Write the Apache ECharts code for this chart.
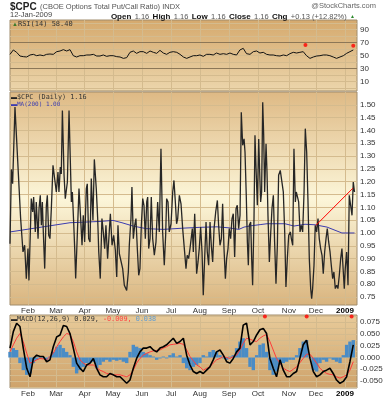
<!DOCTYPE html>
<html><head><meta charset="utf-8">
<script src="https://cdn.jsdelivr.net/npm/echarts@6/dist/echarts.min.js"></script>
<style>html,body{margin:0;padding:0;background:#fff}#c{width:388px;height:400px}</style>
</head><body><div id="c"></div>
<script>
// ---- x-axis: trading-day index (0 = 14-Jan-2008) ----
const monthDays = [13.0, 33.3, 54.0, 74.5, 95.5, 116.5, 137.4, 158.4, 179.4, 201.8, 221.3, 242.3];
const monthLabels = ['Feb','Mar','Apr','May','Jun','Jul','Aug','Sep','Oct','Nov','Dec','2009'];

// ---- y tick labels ----
const rsiTicks = [10, 30, 50, 70, 90];
const rsiGrid = [0, 10, 20, 30, 40, 50, 60, 70, 80, 90, 100];
const cpcTicks = [0.75, 0.80, 0.85, 0.90, 0.95, 1.00, 1.05, 1.10, 1.15, 1.20, 1.25, 1.30, 1.35, 1.40, 1.45, 1.50];
const macdTicks = [-0.050, -0.025, 0.000, 0.025, 0.050, 0.075];
const macdGrid = [-0.0625, -0.05, -0.0375, -0.025, -0.0125, 0, 0.0125, 0.025, 0.0375, 0.05, 0.0625, 0.075, 0.0875];

// ---- $CPC daily [day, value] ----
const cpc = [[0,0.958],[1.0,1.248],[1.9,1.192],[3.6,1.491],[7.7,1.056],[9.4,0.926],[10.6,0.952],[11.8,0.822],[13.0,0.939],[13.7,0.815],[15.4,1.134],[16.4,1.082],[17.1,1.140],[18.3,1.004],[19.0,1.121],[20.3,0.978],[21.0,1.095],[21.9,1.147],[22.7,1.030],[23.4,1.121],[24.1,1.004],[25.1,0.861],[26.3,1.108],[27.0,1.147],[28.0,0.991],[28.9,0.978],[29.9,1.095],[31.1,1.264],[32.3,1.270],[33.5,1.160],[34.7,1.238],[35.4,1.160],[36.4,1.257],[37.1,1.230],[37.9,1.478],[39.1,1.225],[40.0,1.134],[41.5,1.199],[42.7,1.478],[43.6,1.290],[44.4,1.121],[45.1,1.160],[46.1,1.036],[46.8,0.939],[47.5,0.822],[48.5,0.965],[49.9,1.173],[51.1,1.056],[52.1,0.952],[53.0,1.069],[54.0,0.965],[55.2,1.173],[55.9,1.192],[56.9,0.978],[57.9,0.965],[58.8,1.212],[60.0,1.050],[61.0,1.287],[62.4,1.173],[63.4,1.060],[64.2,0.926],
[65.3,0.822],[66.5,1.056],[67.5,1.004],[68.5,0.939],[69.4,1.030],[70.6,0.900],[71.4,0.906],[72.6,1.075],[73.8,0.952],[75.0,0.991],[76.2,0.932],[77.2,0.828],[78.1,1.030],[79.1,0.919],[80.3,0.926],[81.5,0.861],[82.7,0.796],[83.4,0.802],[84.4,0.776],[85.6,0.848],[86.3,0.952],[87.5,1.056],[88.2,1.179],[89.2,0.978],[90.2,1.030],[91.1,1.056],[92.1,0.939],[93.1,0.835],[94.0,0.861],[95.0,1.030],[96.0,1.134],[96.9,1.108],[97.9,0.978],[98.9,1.121],[99.6,1.140],[100.3,0.939],[101.3,0.978],[102.2,1.140],[103.2,0.978],[104.4,0.913],[105.6,0.965],[106.8,1.121],[108.0,1.004],[109.2,1.329],[110.4,1.004],[111.6,0.874],[112.6,0.991],[113.3,1.134],[114.3,1.121],[115.2,1.004],[116.5,1.036],[117.7,1.160],[118.6,1.205],[119.6,1.121],[120.5,1.036],[121.3,1.056],[122.5,1.147],[123.7,1.114],[124.9,1.017],[126.1,0.939],[127.3,0.861],[128.2,0.913],[129.2,0.900],[130.2,0.939],[131.9,1.017],[132.6,0.926],[133.6,1.075],[134.3,0.965],[135.0,0.841],[136.0,0.887],[136.9,0.939],[137.9,1.023],[138.9,0.926],[139.8,0.757],[140.8,0.900],[141.8,1.043],[142.7,0.926],[143.7,0.874],[144.7,1.043],[145.6,0.952],[146.6,0.887],[147.6,1.017],[148.8,1.082],[150.0,1.127],[150.9,1.030],[151.9,0.952],[152.9,0.978],[153.8,1.114],[154.8,0.939],[155.8,0.822],[156.7,0.900],[157.7,0.939],[158.6,1.017],[159.6,0.978],[160.6,1.056],[161.5,1.075],[162.5,0.906],[163.5,1.095],[164.4,1.108],[165.4,1.017],[166.4,1.069],[167.3,1.471],[168.3,1.342],[169.3,1.367],[170.0,1.315],[170.9,1.147],[171.7,0.965],[172.4,0.874],[173.1,1.030],[174.1,1.043],[174.8,0.900],[175.5,0.796],[176.5,1.056],[177.2,1.381],[177.9,1.264],[178.9,1.108],[179.9,1.367],[180.6,1.238],[181.3,1.121],[182.0,1.160],[182.8,1.510],[183.5,1.381],[184.2,1.160],[185.2,1.348],[185.9,1.238],[186.6,1.069],[187.6,0.887],[188.5,0.991],[189.5,1.095],[190.5,1.147],[191.4,0.965],[192.4,0.802],[193.4,0.952],[194.3,1.225],[195.5,1.244],[196.7,1.238],[197.7,1.160],[198.7,1.004],[199.6,0.789],[200.6,0.900],[201.6,0.991],[202.8,1.004],[203.5,0.978],[204.5,0.952],[205.4,1.329],[206.4,1.121],[207.1,1.160],[208.1,1.160],[208.8,1.121],[209.8,1.004],[210.7,1.030],[211.7,1.004],[212.7,1.160],[213.6,1.407],[214.6,1.315],[215.5,1.134],[216.5,0.900],[217.5,0.783],[218.2,0.744],[218.9,0.783],[219.9,0.874],[220.8,1.030],[221.8,1.004],[222.8,1.056],[223.7,0.978],[224.7,0.939],[225.7,0.913],[226.6,0.841],[227.6,0.926],[228.6,0.978],[229.5,1.017],[230.5,0.965],[231.5,0.926],[232.4,0.874],[233.4,0.822],[234.3,0.848],[235.3,0.783],[236.3,0.796],[237.2,0.783],[238.2,0.835],[239.2,0.900],[240.1,0.939],[241.1,0.848],[241.8,0.783],[242.5,0.861],[243.5,0.926],[244.5,0.796],[245.4,1.147],[246.4,1.108],[247.4,1.069],[248.3,1.199],[249.2,1.160]];

// ---- MA(200) [day, value] ----
const ma200 = [[0,1.004],[21.7,1.022],[43.4,1.040],[65.1,1.045],[74.5,1.049],[81.0,1.040],[89.0,1.027],[98.4,1.017],[110.7,1.014],[125.9,1.019],[137.4,1.022],[149.7,1.024],[158.4,1.020],[165.6,1.014],[169.3,1.023],[174.3,1.028],[181.5,1.033],[185.9,1.036],[192.4,1.036],[198.9,1.036],[205.4,1.027],[213.4,1.034],[220.6,1.032],[229.3,1.023],[240.1,1.000],[249.2,1.000]];

// ---- red trend line ----
const trendLine = [[221.3, 1.030], [248.1, 1.175]];

// ---- indicator sample days ----
const sampleDays = [0,2.4,4.8,7.2,9.6,12.1,14.5,16.9,19.3,21.7,24.1,26.5,28.9,31.3,33.8,36.2,38.6,41.0,43.4,45.8,48.2,50.6,53.0,55.5,57.9,60.3,62.7,65.1,67.5,69.9,72.3,74.7,77.2,79.6,82.0,84.4,86.8,89.2,91.6,94.0,96.4,98.9,101.3,103.7,106.1,108.5,110.9,113.3,115.7,118.1,120.6,123.0,125.4,127.8,130.2,132.6,135.0,137.4,
139.8,142.2,144.6,147.0,149.4,151.9,154.3,156.7,159.1,161.5,163.9,166.3,168.7,171.1,173.6,176.0,178.4,180.8,183.2,185.6,188.0,190.4,192.8,195.3,197.7,200.1,202.5,204.9,207.3,209.7,212.1,214.5,217.0,219.4,221.8,224.2,226.6,229.0,231.4,233.8,236.2,238.7,241.1,243.5,245.9,248.3];

const rsi = [51.5,58.2,54.6,48.9,47.9,47.4,50.5,51.5,49.4,50.5,49.4,51.5,52.0,51.5,55.6,56.6,58.7,56.6,58.7,49.4,47.4,49.4,49.4,50.5,50.5,51.5,48.9,48.9,50.5,48.4,49.4,49.4,47.9,47.4,45.3,46.4,54.6,56.6,53.0,55.6,55.6,53.0,56.6,54.6,53.0,57.6,53.5,51.5,54.6,55.6,54.6,51.5,47.4,45.3,47.4,49.4,49.4,50.5,48.4,51.5,51.5,50.5,53.5,51.5,52.5,51.5,53.5,51.5,50.5,58.2,60.7,52.5,51.5,55.6,56.6,53.5,54.6,51.5,50.5,50.5,49.4,48.9,50.5,49.4,52.5,54.6,53.5,54.6,55.6,49.4,45.3,47.4,48.9,49.4,50.5,50.5,49.4,47.4,45.3,47.4,49.4,53.0,55.6,58.2];
const rsiDots = [[213.7, 65.8], [248.3, 64.8]];

const macd = [0.020,0.055,0.073,0.066,0.020,-0.023,-0.041,-0.002,0.005,0.002,0.002,-0.009,-0.005,0.023,0.044,0.048,0.068,0.066,0.051,0.020,-0.012,-0.023,-0.030,-0.016,-0.012,-0.002,-0.023,-0.037,-0.041,-0.041,-0.034,-0.037,-0.041,-0.041,-0.048,-0.055,-0.048,-0.023,-0.002,0.012,0.020,0.020,0.023,0.016,0.012,0.020,0.023,0.027,0.034,0.041,0.030,0.034,0.041,0.005,-0.016,-0.030,-0.034,-0.030,
-0.034,-0.027,-0.020,-0.005,0.012,0.016,0.005,-0.009,-0.012,-0.002,0.012,0.020,0.069,0.073,0.027,0.034,0.048,0.059,0.062,0.051,-0.002,-0.023,-0.041,-0.005,-0.027,-0.041,-0.041,-0.034,-0.030,-0.002,0.027,0.037,-0.002,-0.030,-0.041,-0.037,-0.030,-0.027,-0.023,-0.034,-0.048,-0.055,-0.051,-0.041,-0.009,0.027];
const signal = [0.012,0.027,0.041,0.051,0.034,0.009,-0.012,-0.009,-0.005,-0.002,-0.003,-0.005,0.002,0.009,0.023,0.034,0.044,0.051,0.049,0.034,0.012,-0.005,-0.012,-0.016,-0.016,-0.016,-0.022,-0.027,-0.030,-0.034,-0.036,-0.037,-0.037,-0.037,-0.039,-0.041,-0.037,-0.027,-0.012,-0.002,0.005,0.009,0.012,0.014,0.015,0.016,0.020,0.023,0.027,0.028,0.029,0.030,0.028,0.016,0.002,-0.007,-0.016,-0.020,
-0.027,-0.023,-0.020,-0.012,-0.005,-0.002,0.002,0.000,-0.002,0.002,0.005,0.016,0.030,0.041,0.039,0.036,0.034,0.041,0.046,0.049,0.034,0.016,-0.002,-0.012,-0.023,-0.027,-0.030,-0.025,-0.020,-0.011,-0.002,0.007,0.007,-0.002,-0.012,-0.023,-0.029,-0.034,-0.036,-0.037,-0.041,-0.044,-0.041,-0.037,-0.027,-0.009];
const hist = [0.012,0.020,0.016,-0.012,-0.027,-0.037,-0.034,-0.012,-0.005,0.002,-0.002,-0.005,0.002,0.012,0.023,0.027,0.020,0.012,0.005,-0.020,-0.034,-0.027,-0.020,-0.012,-0.012,-0.009,-0.023,-0.016,-0.009,-0.005,-0.009,-0.005,-0.007,-0.005,-0.009,-0.012,0.012,0.027,0.023,0.020,0.012,0.009,0.005,0.002,-0.005,-0.002,0.002,-0.002,0.005,0.009,0.002,0.005,-0.012,-0.023,-0.027,-0.020,-0.016,-0.012,
0.005,0.002,0.012,0.016,0.012,0.005,-0.002,-0.005,0.002,0.005,0.020,0.034,0.041,0.020,-0.020,-0.027,0.005,0.027,0.030,0.012,-0.027,-0.037,-0.030,-0.016,-0.012,-0.009,-0.005,-0.005,0.005,0.020,0.034,0.037,-0.002,-0.027,-0.030,-0.012,-0.005,-0.009,-0.002,-0.005,-0.009,-0.012,0.005,0.027,0.034,0.037];
const macdDots = [184.4, 214.6, 247.1];

// ---------------------------------------------------------------
const zip = (xs, ys) => xs.map((x, i) => [x, ys[i]]);
const F = '"Liberation Sans Narrow","Liberation Sans",Arial,sans-serif';
const M = '"DejaVu Sans Mono","Liberation Mono",monospace';
const G = echarts.graphic.LinearGradient;
const border = '#a08c6c';
const gridLine = '#d4bb8e';

const chart = echarts.init(document.getElementById('c'), null, {renderer: 'canvas'});

function xAxis(i) {
  return {
    gridIndex: i, type: 'value', min: 0, max: 251,
    axisLine: {show: false},
    axisTick: {show: false, customValues: monthDays},
    splitLine: {show: true, lineStyle: {color: gridLine, width: 1}},
    axisLabel: {
      show: i > 0, customValues: monthDays, margin: 2,
      fontFamily: F, fontSize: 8, color: '#333',
      formatter: v => { const k = monthDays.indexOf(v); const t = monthLabels[k] || ''; return /^\d+$/.test(t) ? '{b|' + t + '}' : t; },
      rich: {b: {fontWeight: 'bold', fontFamily: F, fontSize: 8, color: '#000'}}
    }
  };
}
function yAxis(i, min, max, labels, grid, fmt) {
  return {
    gridIndex: i, type: 'value', position: 'right', min: min, max: max,
    axisLine: {show: false},
    axisTick: {show: false, customValues: grid},
    splitLine: {show: true, lineStyle: {color: gridLine, width: 1}},
    axisLabel: {customValues: labels, margin: 3, fontFamily: F, fontSize: 8, color: '#333', formatter: fmt}
  };
}

const option = {
  animation: false,
  backgroundColor: '#ffffff',
  grid: [
    {left: 10, right: 31, top: 20, height: 71, show: true, borderColor: border, borderWidth: 1,
     backgroundColor: new G(0, 0, 0, 1, [{offset: 0, color: '#d5a96d'}, {offset: 1, color: '#ecd6ac'}])},
    {left: 10, right: 31, top: 92, height: 213, show: true, borderColor: border, borderWidth: 1,
     backgroundColor: new G(0, 0, 0, 1, [{offset: 0, color: '#deb984'}, {offset: 0.5, color: '#fcf6d9'}, {offset: 1, color: '#d9b47e'}])},
    {left: 10, right: 31, top: 315, height: 73, show: true, borderColor: border, borderWidth: 1,
     backgroundColor: new G(0, 0, 0, 1, [{offset: 0, color: '#e8cb9a'}, {offset: 1, color: '#cea26a'}])}
  ],
  xAxis: [xAxis(0), xAxis(1), xAxis(2)],
  yAxis: [
    yAxis(0, -4.9, 104.3, rsiTicks, rsiGrid, v => String(Math.round(v))),
    yAxis(1, 0.719, 1.55, cpcTicks, cpcTicks, v => v.toFixed(2)),
    yAxis(2, -0.065, 0.0905, macdTicks, macdGrid, v => v.toFixed(3))
  ],
  series: [
    {type: 'line', xAxisIndex: 0, yAxisIndex: 0, data: zip(sampleDays, rsi), symbol: 'none',
     lineStyle: {color: '#111', width: 1}, silent: true,
     markLine: {silent: true, symbol: 'none', label: {show: false}, lineStyle: {color: '#8c7757', width: 1, type: 'solid'},
       data: [{yAxis: 70}, {yAxis: 30}]}},
    {type: 'scatter', xAxisIndex: 0, yAxisIndex: 0, data: rsiDots, symbolSize: 4, itemStyle: {color: '#ff0000'}},
    {type: 'line', xAxisIndex: 1, yAxisIndex: 1, data: ma200, symbol: 'none', lineStyle: {color: '#3b3bb0', width: 1}},
    {type: 'line', xAxisIndex: 1, yAxisIndex: 1, data: cpc, symbol: 'none', lineStyle: {color: '#262626', width: 1.3}},
    {type: 'line', xAxisIndex: 1, yAxisIndex: 1, data: trendLine, symbol: 'none', lineStyle: {color: '#ff0000', width: 1}},
    {type: 'bar', xAxisIndex: 2, yAxisIndex: 2, data: zip(sampleDays, hist), barWidth: 3.4, itemStyle: {color: '#4a8cc6'}},
    {type: 'line', xAxisIndex: 2, yAxisIndex: 2, data: zip(sampleDays, signal), symbol: 'none', lineStyle: {color: '#ff3b3b', width: 1}},
    {type: 'line', xAxisIndex: 2, yAxisIndex: 2, data: zip(sampleDays, macd), symbol: 'none', lineStyle: {color: '#000', width: 1.6}},
    {type: 'scatter', xAxisIndex: 2, yAxisIndex: 2, data: macdDots.map(d => [d, 0.0875]), symbolSize: 4, itemStyle: {color: '#ff0000'}}
  ],
  graphic: {elements: [
    {type: 'text', z: 100, left: 10, top: 1, style: {text: '{a|$CPC} {b|(CBOE Options Total Put/Call Ratio) INDX}',
      rich: {a: {fontFamily: F, fontWeight: 'bold', fontSize: 10, fill: '#222'}, b: {fontFamily: F, fontSize: 7.5, fill: '#555'}}}},
    {type: 'text', z: 100, right: 12, top: 2, style: {text: '@StockCharts.com', fontFamily: F, fontSize: 7.5, fill: '#666'}},
    {type: 'text', z: 100, left: 10, top: 11, style: {text: '12-Jan-2009', fontFamily: F, fontSize: 7.5, fill: '#444'}},
    {type: 'text', z: 100, right: 33, top: 10.5, style: {
      text: '{l|Open} {v|1.16} {l|High} {v|1.16} {l|Low} {v|1.16} {l|Close} {v|1.16} {l|Chg} {v|+0.13 (+12.82%)} {g|▲}',
      rich: {l: {fontFamily: F, fontWeight: 'bold', fontSize: 8, fill: '#111'}, v: {fontFamily: F, fontSize: 7.5, fill: '#555'}, g: {fontSize: 5, fill: '#2e8b2e'}}}},
    {type: 'text', z: 100, left: 12, top: 20.5, style: {text: '{g|▲}{t|RSI(14) 58.40}',
      rich: {g: {fontSize: 6, fill: '#3d7a2a'}, t: {fontFamily: M, fontSize: 7, fill: '#333'}}}},
    {type: 'text', z: 100, left: 11, top: 94, style: {text: '{d|▬}{t|$CPC (Daily) 1.16}',
      rich: {d: {fontSize: 6, fill: '#222'}, t: {fontFamily: M, fontSize: 6.8, fill: '#333'}}}},
    {type: 'text', z: 100, left: 11, top: 101, style: {text: '{d|▬}{t|MA(200) 1.00}',
      rich: {d: {fontSize: 6, fill: '#3b3bb0'}, t: {fontFamily: M, fontSize: 6, fill: '#3b3bb0'}}}},
    {type: 'text', z: 100, left: 11, top: 316, style: {text: '{d|▬}{t|MACD(12,26,9) 0.029, }{r|-0.009, }{b|0.038}',
      rich: {d: {fontSize: 6, fill: '#222'}, t: {fontFamily: M, fontSize: 6.8, fill: '#333'}, r: {fontFamily: M, fontSize: 6.8, fill: '#ff4040'}, b: {fontFamily: M, fontSize: 6.8, fill: '#5b9bd5'}}}}
  ]}
};
chart.setOption(option);
</script>
</body></html>
